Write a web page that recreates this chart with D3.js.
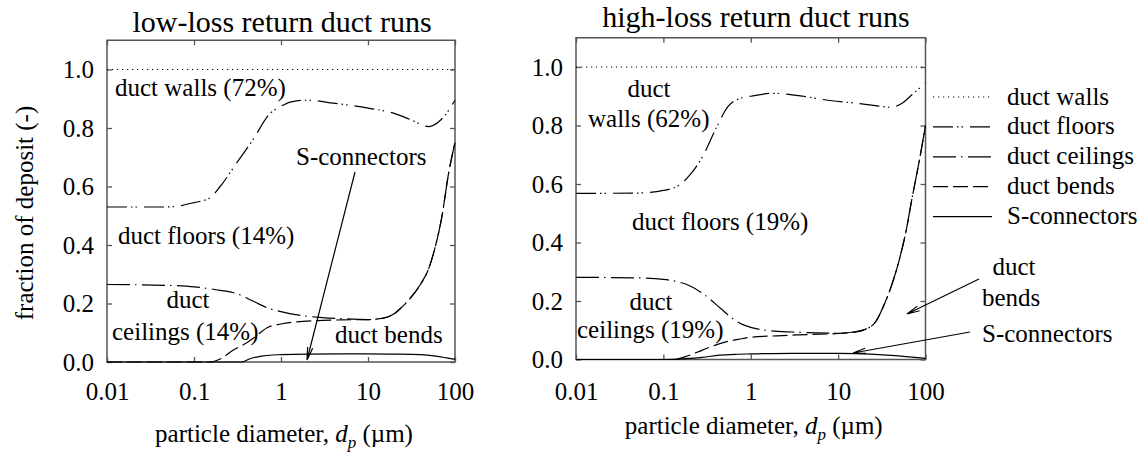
<!DOCTYPE html>
<html>
<head>
<meta charset="utf-8">
<script src="https://cdn.jsdelivr.net/npm/d3@7"></script>
<style>
  html, body { margin: 0; padding: 0; background: #fff; }
  svg { display: block; font-family: "Liberation Serif", "Times New Roman", serif; }
</style>
</head>
<body>
<svg id="chart" width="1144" height="453"></svg>
<script>
// ---------------- data ----------------
const xTickValues = [0.01, 0.1, 1, 10, 100];
const xTickLabels = ["0.01", "0.1", "1", "10", "100"];
const yTickValues = [0, 0.2, 0.4, 0.6, 0.8, 1.0];
const yTickLabels = ["0.0", "0.2", "0.4", "0.6", "0.8", "1.0"];

const seriesNames = ["duct walls", "duct floors", "duct ceilings", "duct bends", "S-connectors"];

// low-loss return duct runs (cumulative boundaries)
const lowWallsD  = [0.01, 100];
const lowWallsV  = [1.0, 1.0];
const lowFloorsD = [0.01, 0.05, 0.1, 0.15, 0.2, 0.3, 0.5, 0.7, 1, 1.5, 2, 4, 10, 20, 30, 50, 70, 100];
const lowFloorsV = [0.53, 0.53, 0.545, 0.56, 0.6, 0.675, 0.77, 0.84, 0.875, 0.893, 0.895, 0.885, 0.868, 0.85, 0.83, 0.805, 0.83, 0.895];
const lowCeilD   = [0.01, 0.05, 0.1, 0.2, 0.3, 0.5, 0.7, 1, 1.6, 3, 5, 10, 15, 20, 25, 30, 40, 50, 60, 70, 85, 100];
const lowCeilV   = [0.265, 0.262, 0.257, 0.245, 0.235, 0.205, 0.185, 0.172, 0.16, 0.152, 0.148, 0.145, 0.15, 0.165, 0.19, 0.215, 0.265, 0.32, 0.4, 0.49, 0.65, 0.75];
const lowBendsD  = [0.01, 0.15, 0.2, 0.28, 0.4, 0.5, 0.7, 1, 1.5, 3, 5, 10, 15, 20, 25, 30, 40, 50, 60, 70, 85, 100];
const lowBendsV  = [0, 0, 0.01, 0.04, 0.065, 0.085, 0.118, 0.13, 0.137, 0.142, 0.144, 0.145, 0.15, 0.165, 0.19, 0.215, 0.265, 0.32, 0.4, 0.49, 0.65, 0.75];
const lowSconD   = [0.01, 0.35, 0.45, 0.6, 0.8, 1, 2, 5, 10, 20, 40, 60, 80, 100];
const lowSconV   = [0, 0, 0.012, 0.02, 0.024, 0.025, 0.027, 0.028, 0.028, 0.027, 0.025, 0.02, 0.014, 0.009];

// high-loss return duct runs (cumulative boundaries)
const highWallsD  = [0.01, 100];
const highWallsV  = [1.0, 1.0];
const highFloorsD = [0.01, 0.05, 0.1, 0.15, 0.2, 0.28, 0.4, 0.55, 0.8, 1, 1.8, 4, 7, 15, 30, 40, 55, 70, 100];
const highFloorsV = [0.568, 0.569, 0.578, 0.595, 0.63, 0.693, 0.79, 0.865, 0.895, 0.9, 0.91, 0.9, 0.888, 0.877, 0.866, 0.862, 0.878, 0.905, 0.946];
const highCeilD   = [0.01, 0.05, 0.1, 0.15, 0.2, 0.3, 0.45, 0.6, 0.8, 1, 1.7, 3, 10, 15, 20, 27, 35, 40, 50, 60, 70, 85, 100];
const highCeilV   = [0.281, 0.279, 0.274, 0.265, 0.252, 0.22, 0.175, 0.143, 0.12, 0.11, 0.098, 0.094, 0.09, 0.094, 0.102, 0.13, 0.2, 0.245, 0.34, 0.44, 0.55, 0.68, 0.8];
const highBendsD  = [0.01, 0.13, 0.18, 0.28, 0.4, 0.53, 0.75, 1, 2, 3.4, 10, 15, 20, 27, 35, 40, 50, 60, 70, 85, 100];
const highBendsV  = [0, 0, 0.01, 0.032, 0.05, 0.061, 0.07, 0.076, 0.081, 0.084, 0.089, 0.093, 0.102, 0.13, 0.2, 0.245, 0.34, 0.44, 0.55, 0.68, 0.8];
const highSconD   = [0.01, 0.1, 0.18, 0.28, 0.44, 0.7, 1, 3, 10, 16, 36, 60, 100];
const highSconV   = [0, 0, 0.003, 0.0075, 0.015, 0.018, 0.019, 0.021, 0.021, 0.02, 0.015, 0.01, 0.004];

// ---------------- styles ----------------
const dashes = {
  "duct walls": "1.2,3.8",
  "duct floors": "20,4,1.5,3,1.5,7",
  "duct ceilings": "23,5,1.5,5.5",
  "duct bends": "15,5",
  "S-connectors": null
};

const svg = d3.select("#chart");
const FS = 25;

function drawPanel(cfg) {
  const x = d3.scaleLog().domain([0.01, 100]).range([cfg.left, cfg.right]);
  const y = d3.scaleLinear().domain([0, 1.1]).range([cfg.bottom, cfg.top]);
  const g = svg.append("g");

  // frame
  g.append("rect")
    .attr("x", cfg.left).attr("y", cfg.top)
    .attr("width", cfg.right - cfg.left).attr("height", cfg.bottom - cfg.top)
    .attr("fill", "none").attr("stroke", "#555").attr("stroke-width", 1.5);

  // axes (inward ticks)
  const ax = g.append("g").attr("transform", `translate(0,${cfg.bottom})`)
    .call(d3.axisBottom(x).tickValues(xTickValues)
      .tickFormat((d, i) => xTickLabels[i]).tickSize(-5).tickPadding(cfg.xPad));
  const ay = g.append("g").attr("transform", `translate(${cfg.left},0)`)
    .call(d3.axisLeft(y).tickValues(yTickValues)
      .tickFormat((d, i) => yTickLabels[i]).tickSize(-5).tickPadding(13));
  const at = g.append("g").attr("transform", `translate(0,${cfg.top})`)
    .call(d3.axisTop(x).tickValues(xTickValues).tickFormat("").tickSize(-5));
  const ar = g.append("g").attr("transform", `translate(${cfg.right},0)`)
    .call(d3.axisRight(y).tickValues(yTickValues).tickFormat("").tickSize(-5));
  [ax, ay, at, ar].forEach(a => {
    a.select(".domain").remove();
    a.selectAll("line").attr("stroke", "#555").attr("stroke-width", 1.3);
    a.selectAll("text").attr("font-family", "Liberation Serif, serif")
      .attr("font-size", FS).attr("fill", "#000");
  });
  ay.selectAll("text").attr("dy", "0.33em");

  // title
  g.append("text").attr("x", cfg.titleX).attr("y", cfg.titleY)
    .attr("text-anchor", "middle").attr("font-size", 30).text(cfg.title);

  // x label
  const xl = g.append("text").attr("x", (cfg.left + cfg.right) / 2 + 3).attr("y", cfg.xLabelY)
    .attr("text-anchor", "middle").attr("font-size", FS);
  xl.append("tspan").text("particle diameter, ");
  xl.append("tspan").attr("font-style", "italic").text("d");
  xl.append("tspan").attr("font-style", "italic").attr("font-size", 17).attr("dy", 6).text("p");
  xl.append("tspan").attr("dy", -6).text(" (\u00b5m)");

  // lines
  const line = d3.line().x(d => x(d[0])).y(d => y(d[1])).curve(d3.curveMonotoneX);
  cfg.series.forEach(s => {
    const pts = s.d.map((dv, i) => [dv, s.v[i]]);
    g.append("path").datum(pts)
      .attr("d", line)
      .attr("fill", "none").attr("stroke", "#000").attr("stroke-width", 1.2)
      .attr("stroke-dasharray", dashes[s.name]);
  });

  // annotations
  cfg.notes.forEach(n => {
    g.append("text").attr("x", n.x).attr("y", n.y)
      .attr("text-anchor", n.anchor || "start").attr("font-size", FS).text(n.t);
  });
}

function arrow(x1, y1, x2, y2) {
  const ang = Math.atan2(y2 - y1, x2 - x1);
  const L = 13, a = 0.2;
  const p1 = [x2 - L * Math.cos(ang - a), y2 - L * Math.sin(ang - a)];
  const p2 = [x2 - L * Math.cos(ang + a), y2 - L * Math.sin(ang + a)];
  const p = d3.path();
  p.moveTo(x1, y1); p.lineTo(x2, y2);
  p.moveTo(p1[0], p1[1]); p.lineTo(x2, y2); p.lineTo(p2[0], p2[1]);
  svg.append("path").attr("d", p.toString()).attr("fill", "none")
    .attr("stroke", "#000").attr("stroke-width", 1.2);
}

drawPanel({
  left: 107, right: 455, top: 40.25, bottom: 362, xPad: 20,
  title: "low-loss return duct runs", titleX: 282, titleY: 31.5, xLabelY: 442,
  series: [
    { name: "duct walls", d: lowWallsD, v: lowWallsV },
    { name: "duct bends", d: lowBendsD, v: lowBendsV },
    { name: "duct floors", d: lowFloorsD, v: lowFloorsV },
    { name: "duct ceilings", d: lowCeilD, v: lowCeilV },
    { name: "S-connectors", d: lowSconD, v: lowSconV }
  ],
  notes: [
    { t: "duct walls (72%)", x: 115, y: 96 },
    { t: "S-connectors", x: 296, y: 165 },
    { t: "duct floors (14%)", x: 118, y: 244 },
    { t: "duct", x: 188, y: 308, anchor: "middle" },
    { t: "ceilings (14%)", x: 112, y: 340 },
    { t: "duct bends", x: 335, y: 343 }
  ]
});

drawPanel({
  left: 576, right: 925.5, top: 37.75, bottom: 359.5, xPad: 22.5,
  title: "high-loss return duct runs", titleX: 756, titleY: 26.5, xLabelY: 434,
  series: [
    { name: "duct walls", d: highWallsD, v: highWallsV },
    { name: "duct bends", d: highBendsD, v: highBendsV },
    { name: "duct floors", d: highFloorsD, v: highFloorsV },
    { name: "duct ceilings", d: highCeilD, v: highCeilV },
    { name: "S-connectors", d: highSconD, v: highSconV }
  ],
  notes: [
    { t: "duct", x: 649, y: 97, anchor: "middle" },
    { t: "walls (62%)", x: 588, y: 126.5 },
    { t: "duct floors (19%)", x: 632, y: 230 },
    { t: "duct", x: 651, y: 310, anchor: "middle" },
    { t: "ceilings (19%)", x: 577, y: 338 },
    { t: "duct", x: 1014, y: 275, anchor: "middle" },
    { t: "bends", x: 982, y: 306 },
    { t: "S-connectors", x: 982, y: 342 }
  ]
});

// arrows
arrow(355, 172, 307, 360);
arrow(979, 279, 907, 314);
arrow(970, 332, 853, 353);

// y-axis label
svg.append("text")
  .attr("transform", "translate(33,213) rotate(-90)")
  .attr("text-anchor", "middle").attr("font-size", FS)
  .text("fraction of deposit (-)");

// legend
const leg = svg.append("g");
seriesNames.forEach((name, i) => {
  const ly = 97 + i * 29.9;
  leg.append("line").attr("x1", 933).attr("x2", 992).attr("y1", ly).attr("y2", ly)
    .attr("stroke", "#000").attr("stroke-width", 1.2)
    .attr("stroke-dasharray", dashes[name]);
  leg.append("text").attr("x", 1007).attr("y", ly + 7.5)
    .attr("font-size", FS).text(name);
});
</script>
</body>
</html>
